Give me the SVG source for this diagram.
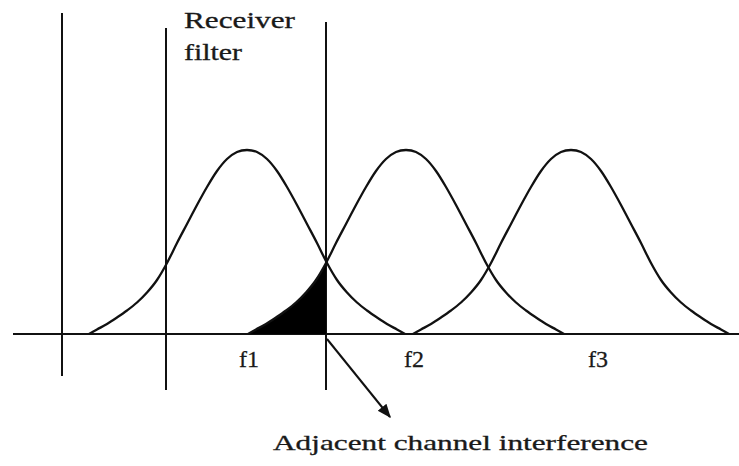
<svg xmlns="http://www.w3.org/2000/svg" width="739" height="466" viewBox="0 0 739 466">
<style>
.ln{stroke:#111;stroke-width:2;fill:none;stroke-linecap:butt}
.bell{stroke:#111;stroke-width:2.3;fill:none;stroke-linejoin:round}
.lbl{font-family:"Liberation Serif","Times New Roman",serif;fill:#1a1a1a;stroke:#1a1a1a;stroke-width:0.3}
</style>
<defs>
<path id="bellShape" d="M-158,184 C-155.33,182.5 -153,181.17 -150,179.5 C-147,177.83 -143.33,176 -140,174 C-136.67,172 -133.33,169.75 -130,167.5 C-126.67,165.25 -123.33,163 -120,160.5 C-116.67,158 -113.33,155.5 -110,152.5 C-106.67,149.5 -103.33,146.25 -100,142.5 C-96.67,138.75 -93.33,134.92 -90,130 C-86.67,125.08 -83.33,119.17 -80,113 C-76.67,106.83 -73.33,99.5 -70,93 C-66.67,86.5 -63.33,80.33 -60,74 C-56.67,67.67 -53.33,61.17 -50,55 C-46.67,48.83 -43.33,42.67 -40,37 C-36.67,31.33 -33.33,25.67 -30,21 C-26.67,16.33 -23.33,12.17 -20,9 C-16.67,5.83 -13.33,3.5 -10,2 C-6.67,0.5 -3.33,0 0,0 C3.33,0 6.67,0.5 10,2 C13.33,3.5 16.67,5.83 20,9 C23.33,12.17 26.67,16.33 30,21 C33.33,25.67 36.67,31.33 40,37 C43.33,42.67 46.67,48.83 50,55 C53.33,61.17 56.67,67.67 60,74 C63.33,80.33 66.67,86.5 70,93 C73.33,99.5 76.67,106.83 80,113 C83.33,119.17 86.67,125.08 90,130 C93.33,134.92 96.67,138.75 100,142.5 C103.33,146.25 106.67,149.5 110,152.5 C113.33,155.5 116.67,158 120,160.5 C123.33,163 126.67,165.25 130,167.5 C133.33,169.75 136.67,172 140,174 C143.33,176 147,177.83 150,179.5 C153,181.17 155.33,182.5 158,184"/>
<marker id="arr" viewBox="0 0 10 10" refX="9" refY="5" markerWidth="7" markerHeight="7" orient="auto" markerUnits="strokeWidth">
<path d="M0,1 L10,5 L0,9 Z" fill="#111"/>
</marker>
</defs>
<rect width="739" height="466" fill="#fff"/>
<g id="axis">
<line class="ln" x1="13" y1="334" x2="739" y2="334"/>
</g>
<g id="vlines">
<line class="ln" x1="62" y1="13" x2="62" y2="376"/>
<line class="ln" x1="166" y1="28" x2="166" y2="390"/>
<line class="ln" x1="326" y1="22" x2="326" y2="390"/>
</g>
<g id="interference-area">
<path transform="translate(406,150)" d="M-158,184 C-155.33,182.5 -153,181.17 -150,179.5 C-147,177.83 -143.33,176 -140,174 C-136.67,172 -133.33,169.75 -130,167.5 C-126.67,165.25 -123.33,163 -120,160.5 C-116.67,158 -113.33,155.5 -110,152.5 C-106.67,149.5 -103.33,146.25 -100,142.5 C-96.67,138.75 -93.33,134.92 -90,130 C-86.67,125.08 -83.33,119.17 -80,113 L-80,184 Z" fill="#000"/>
</g>
<g id="channel-f1">
<use href="#bellShape" class="bell" transform="translate(247,150)"/>
<text class="lbl" x="239" y="367" font-size="24">f1</text>
</g>
<g id="channel-f2">
<use href="#bellShape" class="bell" transform="translate(406,150)"/>
<text class="lbl" x="404" y="367" font-size="24">f2</text>
</g>
<g id="channel-f3">
<use href="#bellShape" class="bell" transform="translate(571,150)"/>
<text class="lbl" x="588" y="367" font-size="24">f3</text>
</g>
<g id="receiver-label">
<text class="lbl" x="184" y="28" font-size="23" textLength="111" lengthAdjust="spacingAndGlyphs">Receiver</text>
<text class="lbl" x="184" y="60" font-size="23" textLength="58" lengthAdjust="spacingAndGlyphs">filter</text>
</g>
<g id="connectors">
<line class="ln" x1="327" y1="339" x2="390" y2="417" marker-end="url(#arr)"/>
</g>
<g id="aci-label">
<text class="lbl" x="273" y="450" font-size="21" textLength="375" lengthAdjust="spacingAndGlyphs">Adjacent channel interference</text>
</g>
</svg>
